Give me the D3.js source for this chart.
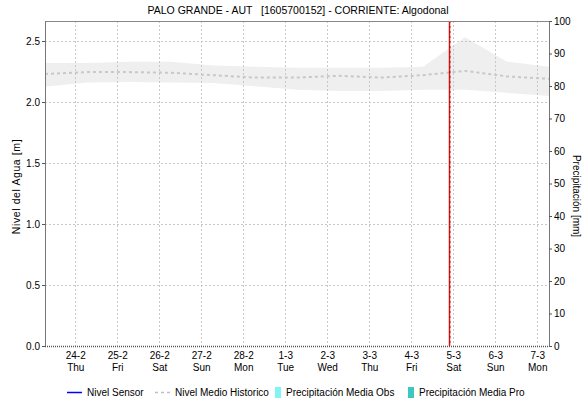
<!DOCTYPE html>
<html>
<head>
<meta charset="utf-8">
<script src="https://cdn.jsdelivr.net/npm/d3@7/dist/d3.min.js"></script>
<style>
  html, body { margin: 0; padding: 0; background: #fff; }
  svg { display: block; font-family: "Liberation Sans", Arial, sans-serif; }
  text { fill: #000; }
</style>
</head>
<body>
<div id="chart"></div>
<script>
// Daily 07:00 samples of the historical level envelope (m)
const days = [
  "2022-02-23T07:00", "2022-02-24T07:00", "2022-02-25T07:00", "2022-02-26T07:00",
  "2022-02-27T07:00", "2022-02-28T07:00", "2022-03-01T07:00", "2022-03-02T07:00",
  "2022-03-03T07:00", "2022-03-04T07:00", "2022-03-05T07:00", "2022-03-06T07:00",
  "2022-03-07T07:00"
];
const histMax  = [2.32, 2.32, 2.33, 2.33, 2.30, 2.29, 2.28, 2.28, 2.28, 2.29, 2.53, 2.33, 2.29];
const histMin  = [2.125, 2.16, 2.165, 2.16, 2.155, 2.13, 2.10, 2.09, 2.09, 2.10, 2.10, 2.075, 2.05];
const histMean = [2.23, 2.245, 2.245, 2.24, 2.22, 2.20, 2.20, 2.215, 2.20, 2.22, 2.255, 2.21, 2.19];

// Sensor and precipitation series carry no readings in this window
const sensorLevel = [];
const precipObs = [];
const precipPro = [];

const levelTicks = [0, 0.5, 1.0, 1.5, 2.0, 2.5];
const precipTicks = [0, 10, 20, 30, 40, 50, 60, 70, 80, 90, 100];
const nowTime = "2022-03-04T22:00";
const weekdayNames = ["Sun", "Mon", "Tue", "Wed", "Thu", "Fri", "Sat"];

const title = "PALO GRANDE - AUT   [1605700152] - CORRIENTE: Algodonal";
const leftLabel = "Nivel del Agua [m]";
const rightLabel = "Precipitación [mm]";
const legendItems = [
  { name: "Nivel Sensor", kind: "line", color: "#0000ff" },
  { name: "Nivel Medio Historico", kind: "dash", color: "#c0c0c0" },
  { name: "Precipitación Media Obs", kind: "box", color: "#7ff5f5" },
  { name: "Precipitación Media Pro", kind: "box", color: "#3cc8c0" }
];

const W = 582, H = 405;
const plot = { left: 45, right: 549, top: 21, bottom: 346 };
const parse = d3.timeParse("%Y-%m-%dT%H:%M");
const dates = days.map(parse);

const svg = d3.select("#chart").append("svg").attr("width", W).attr("height", H);

const x = d3.scaleTime()
  .domain([parse("2022-02-23T07:00"), parse("2022-03-07T07:00")])
  .range([plot.left, plot.right]);
const y = d3.scaleLinear().domain([0, 2.664]).range([plot.bottom, plot.top]);
const yR = d3.scaleLinear().domain([0, 100]).range([plot.bottom, plot.top]);

const dayTicks = d3.timeDay.range(d3.timeDay.ceil(x.domain()[0]), x.domain()[1]);

// Historical envelope
const band = dates.map((d, i) => ({ d, lo: histMin[i], hi: histMax[i], m: histMean[i] }));
svg.append("path")
  .datum(band)
  .attr("fill", "#efefef")
  .attr("d", d3.area().x(p => x(p.d)).y0(p => y(p.lo)).y1(p => y(p.hi)));

// Grid
const grid = svg.append("g").attr("stroke", "#c8c8c8").attr("stroke-width", 1)
  .attr("stroke-dasharray", "2,2").attr("fill", "none");
grid.selectAll("line.v").data(dayTicks).join("line")
  .attr("x1", d => Math.round(x(d)) + 0.5).attr("x2", d => Math.round(x(d)) + 0.5)
  .attr("y1", plot.top).attr("y2", plot.bottom);
grid.selectAll("line.h").data(levelTicks.filter(v => v > 0)).join("line")
  .attr("x1", plot.left).attr("x2", plot.right)
  .attr("y1", d => Math.round(y(d)) + 0.5).attr("y2", d => Math.round(y(d)) + 0.5);

// Historical mean
svg.append("path")
  .datum(band)
  .attr("fill", "none")
  .attr("stroke", "#c8c8c8")
  .attr("stroke-width", 2)
  .attr("stroke-dasharray", "3,3")
  .attr("d", d3.line().x(p => x(p.d)).y(p => y(p.m)));

// Sensor level (empty)
svg.append("path")
  .datum(sensorLevel)
  .attr("fill", "none").attr("stroke", "#0000ff").attr("stroke-width", 1.5)
  .attr("d", d3.line().x(p => x(parse(p[0]))).y(p => y(p[1])));

// Current time marker
const nx = Math.round(x(parse(nowTime))) + 0.5;
svg.append("line").attr("x1", nx).attr("x2", nx).attr("y1", plot.top).attr("y2", plot.bottom)
  .attr("stroke", "#e01010").attr("stroke-width", 1.5);
svg.append("line").attr("x1", nx + 0.5).attr("x2", nx + 0.5).attr("y1", plot.top).attr("y2", plot.bottom)
  .attr("stroke", "#7a1010").attr("stroke-width", 0.8).attr("stroke-dasharray", "2,3");

// Frame
svg.append("line").attr("x1", plot.left).attr("x2", plot.right)
  .attr("y1", plot.top + 0.5).attr("y2", plot.top + 0.5).attr("stroke", "#888");

// Left axis
const gL = svg.append("g").attr("transform", `translate(${plot.left},0)`)
  .call(d3.axisLeft(y).tickValues(levelTicks).tickFormat(d3.format(".1f")).tickSize(3).tickPadding(2));
gL.select(".domain").attr("stroke", "#777").attr("d", `M0.5,${plot.top}V${plot.bottom}`);
gL.selectAll(".tick line").attr("stroke", "#555");
gL.selectAll(".tick text").attr("font-size", 10).attr("font-family", "Liberation Sans, Arial, sans-serif");

// Right axis
const gR = svg.append("g").attr("transform", `translate(${plot.right},0)`)
  .call(d3.axisRight(yR).tickValues(precipTicks).tickSize(3).tickPadding(2));
gR.select(".domain").attr("stroke", "#777").attr("d", `M0.5,${plot.top}V${plot.bottom}`);
gR.selectAll(".tick line").attr("stroke", "#555");
gR.selectAll(".tick text").attr("font-size", 10).attr("font-family", "Liberation Sans, Arial, sans-serif");

// Bottom axis with dense hourly marks
svg.append("line").attr("x1", plot.left).attr("x2", plot.right)
  .attr("y1", plot.bottom + 0.5).attr("y2", plot.bottom + 0.5)
  .attr("stroke", "#555").attr("stroke-width", 1.5).attr("stroke-dasharray", "1,1");

const gX = svg.append("g").attr("transform", `translate(0,${plot.bottom})`)
  .call(d3.axisBottom(x).tickValues(dayTicks).tickSize(0).tickFormat(""));
gX.select(".domain").remove();
const lab = svg.append("g").attr("font-size", 10).attr("text-anchor", "middle");
lab.selectAll("text.d").data(dayTicks).join("text")
  .attr("x", d => x(d) + 1).attr("y", plot.bottom + 13)
  .text(d => `${d.getDate()}-${d.getMonth() + 1}`);
lab.selectAll("text.w").data(dayTicks).join("text")
  .attr("x", d => x(d) + 1).attr("y", plot.bottom + 25)
  .text(d => weekdayNames[d.getDay()]);

// Titles
svg.append("text").attr("x", 298).attr("y", 14).attr("text-anchor", "middle")
  .attr("font-size", 10.5).attr("textLength", 301).attr("lengthAdjust", "spacingAndGlyphs")
  .style("white-space", "pre").text(title);
svg.append("text").attr("transform", `translate(20,${(plot.top + plot.bottom) / 2 + 3}) rotate(-90)`)
  .attr("text-anchor", "middle").attr("font-size", 10.5).attr("letter-spacing", 0.6)
  .text(leftLabel);
svg.append("text").attr("transform", `translate(573,196) rotate(90)`)
  .attr("text-anchor", "middle").attr("font-size", 10).text(rightLabel);

// Legend
const lg = svg.append("g").attr("font-size", 10);
const lx = [67, 155, 275, 408];
legendItems.forEach((it, i) => {
  const g = lg.append("g").attr("transform", `translate(${lx[i]},396)`);
  if (it.kind === "line") {
    g.append("line").attr("x1", 0).attr("x2", 15).attr("y1", -3.5).attr("y2", -3.5)
      .attr("stroke", it.color).attr("stroke-width", 1.5);
  } else if (it.kind === "dash") {
    g.append("line").attr("x1", 0).attr("x2", 15).attr("y1", -3.5).attr("y2", -3.5)
      .attr("stroke", it.color).attr("stroke-width", 1.5).attr("stroke-dasharray", "3,3");
  } else {
    g.append("rect").attr("x", 0).attr("y", -9).attr("width", 6).attr("height", 11).attr("fill", it.color);
  }
  g.append("text").attr("x", it.kind === "box" ? 11 : 20).attr("y", 0).text(it.name);
});
</script>
</body>
</html>
